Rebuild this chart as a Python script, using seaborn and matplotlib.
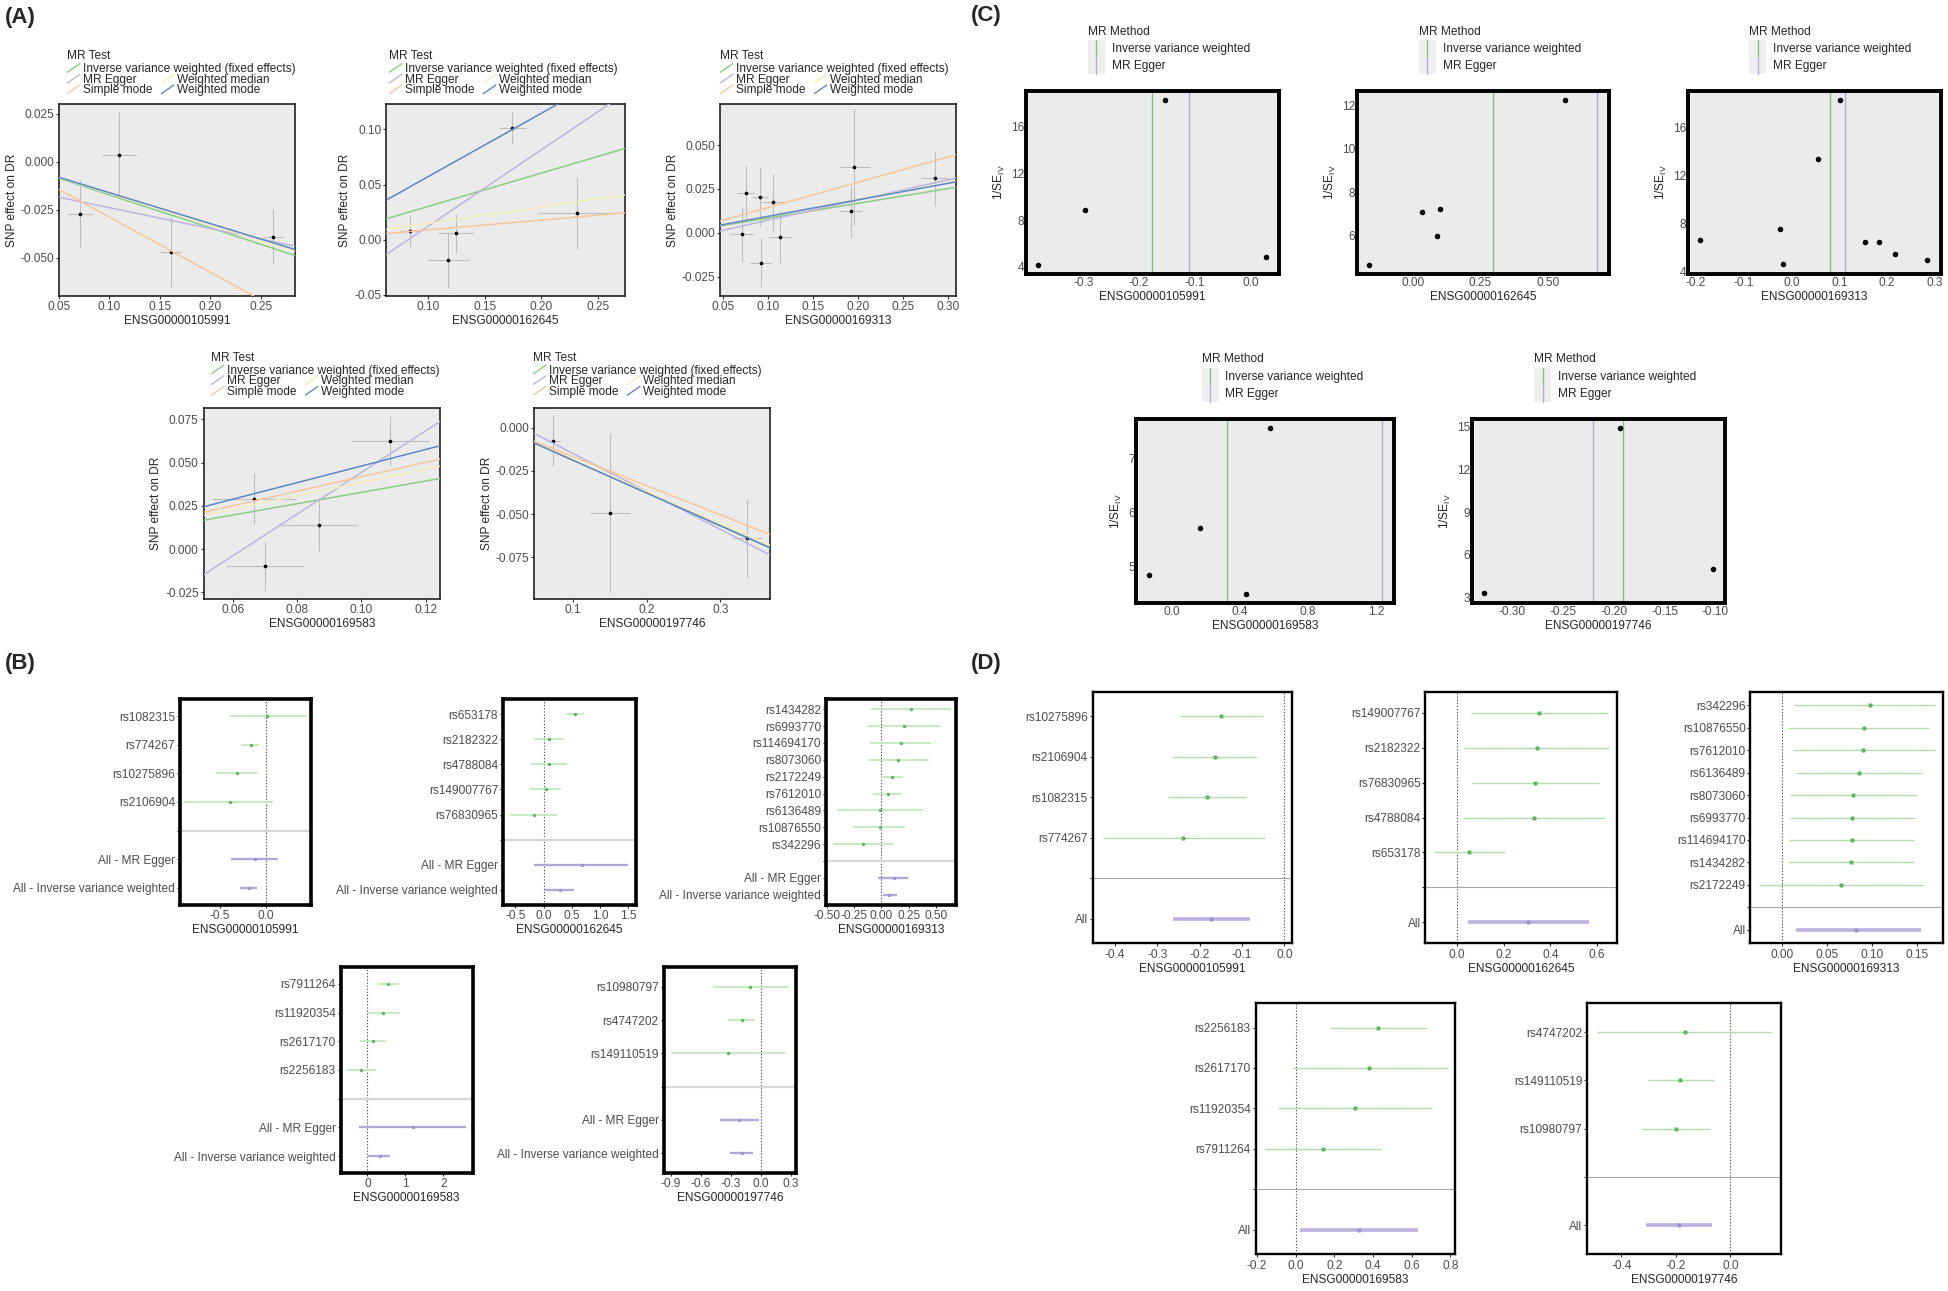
import numpy as np
import pandas as pd
import matplotlib
matplotlib.use("Agg")
import matplotlib.pyplot as plt
import seaborn as sns
from matplotlib.lines import Line2D
from matplotlib.patches import Rectangle
from matplotlib.legend_handler import HandlerBase
from matplotlib.ticker import FixedLocator, FormatStrFormatter

# ----------------------------------------------------------------- DATA
genes = ["ENSG00000105991", "ENSG00000162645", "ENSG00000169313",
         "ENSG00000169583", "ENSG00000197746"]

# (A) scatter plots: SNP effect on exposure (bx) vs SNP effect on DR (by)
A_bx = [[0.0713, 0.1094, 0.1606, 0.2625],
        [0.0835, 0.1176, 0.1243, 0.1744, 0.2312],
        [0.0708, 0.0757, 0.0910, 0.0917, 0.1050, 0.1130, 0.1920, 0.1960, 0.2854],
        [0.0667, 0.0701, 0.0868, 0.1089],
        [0.0727, 0.1500, 0.3360]]
A_by = [[-0.0270, 0.0037, -0.0470, -0.0390],
        [0.0080, -0.0182, 0.0058, 0.1010, 0.0240],
        [-0.0008, 0.0229, 0.0206, -0.0170, 0.0173, -0.0023, 0.0122, 0.0373, 0.0310],
        [0.0292, -0.0096, 0.0142, 0.0627],
        [-0.0075, -0.0492, -0.0640]]
A_sex = [[0.012, 0.017, 0.0106, 0.010],
         [0.008, 0.018, 0.016, 0.012, 0.034],
         [0.013, 0.010, 0.009, 0.012, 0.014, 0.012, 0.012, 0.017, 0.015],
         [0.013, 0.012, 0.0117, 0.012],
         [0.009, 0.027, 0.020]]
A_sey = [[0.0173, 0.0225, 0.0182, 0.0143],
         [0.0140, 0.0255, 0.0176, 0.0143, 0.0320],
         [0.0154, 0.0152, 0.0167, 0.0139, 0.0163, 0.0149, 0.0143, 0.0330, 0.0156],
         [0.0148, 0.0145, 0.0152, 0.0144],
         [0.0145, 0.0455, 0.0226]]
A_methods = ["Inverse variance weighted (fixed effects)", "MR Egger",
             "Weighted median", "Simple mode", "Weighted mode"]
A_slope = [[-0.172, -0.109, -0.165, -0.288, -0.161],
           [0.302, 0.691, 0.148, 0.089, 0.573],
           [0.084, 0.115, 0.095, 0.144, 0.094],
           [0.328, 1.206, 0.385, 0.418, 0.480],
           [-0.189, -0.219, -0.185, -0.168, -0.189]]
A_icept = [[0.0, -0.0130, 0.0, 0.0, 0.0],
           [0.0, -0.0567, 0.0, 0.0, 0.0],
           [0.0, -0.0043, 0.0, 0.0, 0.0],
           [0.0, -0.0763, 0.0, 0.0, 0.0],
           [0.0, 0.0069, 0.0, 0.0, 0.0]]
A_xticks = [[0.05, 0.10, 0.15, 0.20, 0.25], [0.10, 0.15, 0.20, 0.25],
            [0.05, 0.10, 0.15, 0.20, 0.25, 0.30], [0.06, 0.08, 0.10, 0.12],
            [0.1, 0.2, 0.3]]
A_yticks = [[-0.050, -0.025, 0.000, 0.025], [-0.05, 0.00, 0.05, 0.10],
            [-0.025, 0.000, 0.025, 0.050], [-0.025, 0.000, 0.025, 0.050, 0.075],
            [-0.075, -0.050, -0.025, 0.000]]

# (C) funnel plots: Wald ratio vs 1/SE
C_beta = [[-0.382, -0.2967, -0.1544, 0.0278],
          [-0.159, 0.036, 0.091, 0.100, 0.561],
          [-0.191, -0.0245, -0.017, 0.0556, 0.1013, 0.1543, 0.183, 0.216, 0.2845],
          [-0.131, 0.167, 0.436, 0.579],
          [-0.3278, -0.1943, -0.1029]]
C_invse = [[4.11, 8.83, 18.3, 4.86],
           [4.62, 7.06, 5.97, 7.20, 12.23],
           [6.62, 7.56, 4.61, 13.44, 18.3, 6.45, 6.45, 5.45, 4.97],
           [4.85, 5.716, 4.506, 7.568],
           [3.30, 14.9, 5.00]]
C_ivw = [-0.1767, 0.295, 0.0814, 0.3248, -0.191]
C_egger = [-0.110, 0.679, 0.1129, 1.2315, -0.2204]
C_methods = ["Inverse variance weighted", "MR Egger"]
C_xticks = [[-0.3, -0.2, -0.1, 0.0], [0.00, 0.25, 0.50],
            [-0.2, -0.1, 0.0, 0.1, 0.2, 0.3], [0.0, 0.4, 0.8, 1.2],
            [-0.30, -0.25, -0.20, -0.15, -0.10]]
C_yticks = [[4, 8, 12, 16], [6, 8, 10, 12], [4, 8, 12, 16], [5, 6, 7],
            [3, 6, 9, 12, 15]]

# (B) forest plots of single-SNP and overall estimates
B_snps = [["rs1082315", "rs774267", "rs10275896", "rs2106904"],
          ["rs653178", "rs2182322", "rs4788084", "rs149007767", "rs76830965"],
          ["rs1434282", "rs6993770", "rs114694170", "rs8073060", "rs2172249",
           "rs7612010", "rs6136489", "rs10876550", "rs342296"],
          ["rs7911264", "rs11920354", "rs2617170", "rs2256183"],
          ["rs10980797", "rs4747202", "rs149110519"]]
B_b = [[0.021, -0.160, -0.305, -0.390],
       [0.560, 0.100, 0.090, 0.036, -0.165],
       [0.269, 0.206, 0.177, 0.149, 0.097, 0.057, -0.011, -0.017, -0.171],
       [0.541, 0.412, 0.153, -0.165],
       [-0.103, -0.193, -0.327]]
B_lo = [[-0.382, -0.264, -0.542, -0.882],
        [0.389, -0.178, -0.233, -0.244, -0.589],
        [-0.097, -0.126, -0.103, -0.126, 0.000, -0.074, -0.411, -0.257, -0.446],
        [0.306, 0.012, -0.200, -0.529],
        [-0.484, -0.327, -0.900]]
B_hi = [[0.451, -0.069, -0.083, 0.083],
        [0.711, 0.356, 0.411, 0.311, 0.244],
        [0.640, 0.543, 0.457, 0.434, 0.200, 0.189, 0.383, 0.217, 0.103],
        [0.824, 0.859, 0.482, 0.235],
        [0.287, -0.058, 0.255]]
B_all_labels = ["All - MR Egger", "All - Inverse variance weighted"]
B_all_b = [[-0.115, -0.185], [0.675, 0.290], [0.114, 0.069], [1.188, 0.318], [-0.215, -0.193]]
B_all_lo = [[-0.375, -0.278], [-0.178, 0.022], [-0.029, 0.011], [-0.224, 0.012], [-0.407, -0.304]]
B_all_hi = [[0.132, -0.097], [1.500, 0.544], [0.246, 0.143], [2.600, 0.600], [-0.022, -0.076]]
B_xticks = [[-0.5, 0.0], [-0.5, 0.0, 0.5, 1.0, 1.5], [-0.50, -0.25, 0.00, 0.25, 0.50],
            [0, 1, 2], [-0.9, -0.6, -0.3, 0.0, 0.3]]

# (D) leave-one-out plots
D_snps = [["rs10275896", "rs2106904", "rs1082315", "rs774267"],
          ["rs149007767", "rs2182322", "rs76830965", "rs4788084", "rs653178"],
          ["rs342296", "rs10876550", "rs7612010", "rs6136489", "rs8073060",
           "rs6993770", "rs114694170", "rs1434282", "rs2172249"],
          ["rs2256183", "rs2617170", "rs11920354", "rs7911264"],
          ["rs4747202", "rs149110519", "rs10980797"]]
D_b = [[-0.150, -0.164, -0.184, -0.239],
       [0.349, 0.341, 0.336, 0.329, 0.052],
       [0.0983, 0.0908, 0.0902, 0.0861, 0.0794, 0.0780, 0.0774, 0.0767, 0.0660],
       [0.426, 0.381, 0.308, 0.141],
       [-0.167, -0.183, -0.198]]
D_lo = [[-0.247, -0.264, -0.276, -0.429],
        [0.0595, 0.031, 0.065, 0.026, -0.098],
        [0.0138, 0.0067, 0.0121, 0.0155, 0.0087, 0.0087, 0.0074, 0.0074, -0.025],
        [0.176, -0.011, -0.092, -0.156],
        [-0.491, -0.304, -0.324]]
D_hi = [[-0.050, -0.064, -0.090, -0.046],
        [0.647, 0.652, 0.608, 0.634, 0.207],
        [0.170, 0.1635, 0.170, 0.1555, 0.150, 0.148, 0.1467, 0.1467, 0.158],
        [0.679, 0.786, 0.707, 0.439],
        [0.152, -0.061, -0.076]]
D_all_b = [-0.174, 0.303, 0.0828, 0.327, -0.189]
D_all_lo = [-0.264, 0.047, 0.0155, 0.021, -0.309]
D_all_hi = [-0.081, 0.564, 0.1541, 0.632, -0.068]
D_xticks = [[-0.4, -0.3, -0.2, -0.1, 0.0], [0.0, 0.2, 0.4, 0.6],
            [0.00, 0.05, 0.10, 0.15], [-0.2, 0.0, 0.2, 0.4, 0.6, 0.8], [-0.4, -0.2, 0.0]]

# ----------------------------------------------------------------- LAYOUT / STYLE
W, H = 1949, 1291
A_boxes = [(59, 295, 104, 296), (386, 625, 104, 296), (720, 956, 104, 296),
           (203.6, 440, 407.7, 599), (534, 770.5, 407.7, 599)]
C_boxes = [(1026, 1279, 91, 274), (1357, 1609, 91, 274), (1688, 1941, 91, 274),
           (1136.5, 1394, 419, 603), (1472, 1725, 419, 603)]
B_boxes = [(180, 310.6, 699, 905), (503, 635.6, 699, 905), (826, 956, 699, 905),
           (340.7, 472.8, 966.7, 1173.3), (663.5, 796, 966.7, 1173.3)]
D_boxes = [(1092.6, 1292.3, 692, 943), (1425.5, 1617.3, 692, 943), (1750.5, 1943, 692, 943),
           (1255.7, 1455.5, 1003.3, 1254), (1587.3, 1781.3, 1003.3, 1254)]
A_lims = [((0.05, 0.284), (-0.070, 0.0302)), ((0.0625, 0.274), (-0.051, 0.123)),
          ((0.0465, 0.309), (-0.036, 0.0734)), ((0.051, 0.1244), (-0.0288, 0.0817)),
          ((0.0467, 0.368), (-0.099, 0.0115))]
C_lims = [((-0.403, 0.051), (3.37, 19.09)), ((-0.2045, 0.7227), (4.22, 12.66)),
          ((-0.2168, 0.313), (3.8, 19.08)), ((-0.2036, 1.304), (4.333, 7.728)),
          ((-0.3396, -0.0906), (2.625, 15.52))]
B_xlims = [(-0.93, 0.49), (-0.722, 1.633), (-0.51, 0.686), (-0.706, 2.776), (-0.976, 0.354)]
D_xlims = [(-0.453, 0.0186), (-0.1345, 0.686), (-0.035, 0.179), (-0.206, 0.826), (-0.525, 0.187)]
A_xfmt = ["%.2f", "%.2f", "%.2f", "%.2f", "%.1f"]
A_yfmt = ["%.3f", "%.2f", "%.3f", "%.3f", "%.3f"]
C_xfmt = ["%.1f", "%.2f", "%.1f", "%.1f", "%.2f"]
B_xfmt = ["%.1f", "%.1f", "%.2f", "%d", "%.1f"]
D_xfmt = ["%.1f", "%.1f", "%.2f", "%.1f", "%.1f"]
A_leg = [(67, 56.5), (389, 56.5), (720, 56.5), (211, 358), (533, 358)]
C_leg = [(1088, 32.3), (1419, 32.3), (1749.5, 32.3), (1201.6, 360), (1534.4, 360)]

A_colors = ["#8CCB88", "#BDB5DB", "#F3EDBE", "#F6C79B", "#5F86C4"]
C_colors = ["#7FC47C", "#B4AED4"]
PANEL_BG = "#EBEBEB"
TICK_C = "#4D4D4D"
FS = 8.6
LEG_FS = 8.6

sns.set_theme(style="white")
plt.rcParams["font.family"] = ["Liberation Sans", "DejaVu Sans"]
plt.rcParams["axes.unicode_minus"] = False
plt.rcParams["mathtext.default"] = "regular"

fig = plt.figure(figsize=(W / 100, H / 100), dpi=100)
fig.patch.set_facecolor("white")


def add_ax(box):
    x0, x1, y0, y1 = box
    return fig.add_axes([x0 / W, 1 - y1 / H, (x1 - x0) / W, (y1 - y0) / H])


def set_spines(ax, lw, color="black"):
    for s in ax.spines.values():
        s.set_visible(True)
        s.set_linewidth(lw)
        s.set_color(color)


def ticks(ax, xt, xfmt, yt=None, yfmt=None, length=2.5, xpad=1.0, ypad=1.0):
    ax.xaxis.set_major_locator(FixedLocator(xt))
    ax.xaxis.set_major_formatter(FormatStrFormatter(xfmt))
    if yt is not None:
        ax.yaxis.set_major_locator(FixedLocator(yt))
        ax.yaxis.set_major_formatter(FormatStrFormatter(yfmt))
    ax.tick_params(axis="both", which="major", bottom=True, left=True, top=False, right=False,
                   length=length, width=0.8, color="#333333", labelsize=FS,
                   labelcolor=TICK_C, direction="out")
    ax.tick_params(axis="x", pad=xpad)
    ax.tick_params(axis="y", pad=ypad)


class HandlerDiag(HandlerBase):
    def create_artists(self, legend, orig_handle, xdescent, ydescent, width, height, fontsize, trans):
        ln = Line2D([-xdescent, -xdescent + width], [-ydescent, -ydescent + height],
                    color=orig_handle.get_color(), lw=orig_handle.get_linewidth(),
                    solid_capstyle="butt")
        ln.set_transform(trans)
        return [ln]


class HandlerVKey(HandlerBase):
    def create_artists(self, legend, orig_handle, xdescent, ydescent, width, height, fontsize, trans):
        r = Rectangle((-xdescent, -ydescent), width, height, facecolor="#EFEFEF",
                      edgecolor="none", transform=trans)
        xm = -xdescent + width / 2
        ln = Line2D([xm, xm], [-ydescent, -ydescent + height], color=orig_handle.get_color(),
                    lw=orig_handle.get_linewidth())
        ln.set_transform(trans)
        return [r, ln]


# ---------------- (A) scatter plots
for i in range(5):
    ax = add_ax(A_boxes[i])
    ax.set_facecolor(PANEL_BG)
    ax.errorbar(A_bx[i], A_by[i], yerr=A_sey[i], fmt="none", ecolor="#BEBEBE",
                elinewidth=0.8, capsize=0, zorder=2)
    ax.errorbar(A_bx[i], A_by[i], xerr=A_sex[i], fmt="none", ecolor="#BEBEBE",
                elinewidth=0.8, capsize=0, zorder=2)
    sns.scatterplot(x=A_bx[i], y=A_by[i], ax=ax, color="black", s=7, linewidth=0,
                    zorder=3, legend=False)
    for m in range(5):
        ax.axline((0, A_icept[i][m]), slope=A_slope[i][m], color=A_colors[m], lw=1.1, zorder=4)
    ax.set_xlim(*A_lims[i][0])
    ax.set_ylim(*A_lims[i][1])
    ticks(ax, A_xticks[i], A_xfmt[i], A_yticks[i], A_yfmt[i], length=2.5, xpad=1, ypad=1)
    set_spines(ax, 1.2, "#222222")
    ax.set_xlabel(genes[i], fontsize=FS, labelpad=1.5)
    ax.set_ylabel("SNP effect on DR", fontsize=FS, labelpad=2)

    hs = [Line2D([], [], color=A_colors[m], lw=1.0) for m in range(5)]
    lx, ly = A_leg[i]
    leg1 = fig.legend(handles=[hs[0], hs[1], hs[3]],
                      labels=[A_methods[0], A_methods[1], A_methods[3]],
                      title="MR Test", loc="upper left",
                      bbox_to_anchor=(lx / W, 1 - (ly - 6.5) / H),
                      frameon=False, fontsize=LEG_FS, title_fontsize=LEG_FS, alignment="left",
                      handlelength=1.1, handleheight=0.8, handletextpad=0.2, labelspacing=-0.11,
                      borderpad=0, borderaxespad=0, handler_map={Line2D: HandlerDiag()})
    leg1._legend_box.sep = 0.8
    fig.legend(handles=[hs[2], hs[4]], labels=[A_methods[2], A_methods[4]],
               loc="upper left", bbox_to_anchor=((lx + 94) / W, 1 - (ly + 17.3) / H),
               frameon=False, fontsize=LEG_FS, handlelength=1.1, handleheight=0.8,
               handletextpad=0.2, labelspacing=-0.11, borderpad=0, borderaxespad=0,
               handler_map={Line2D: HandlerDiag()})

# ---------------- (C) funnel plots
for i in range(5):
    ax = add_ax(C_boxes[i])
    ax.set_facecolor(PANEL_BG)
    ax.axvline(C_ivw[i], color=C_colors[0], lw=1.0, zorder=2)
    ax.axvline(C_egger[i], color=C_colors[1], lw=1.0, zorder=2)
    sns.scatterplot(x=C_beta[i], y=C_invse[i], ax=ax, color="black", s=16, linewidth=0,
                    zorder=3, legend=False)
    ax.set_xlim(*C_lims[i][0])
    ax.set_ylim(*C_lims[i][1])
    ticks(ax, C_xticks[i], C_xfmt[i], C_yticks[i], "%d", length=0, xpad=2.0, ypad=1.2)
    set_spines(ax, 2.8)
    ax.set_xlabel(genes[i], fontsize=FS, labelpad=1.5)
    ax.set_ylabel(r"$1/SE_{IV}$", fontsize=FS, labelpad=3)
    hs = [Line2D([], [], color=C_colors[k], lw=1.0) for k in range(2)]
    lx, ly = C_leg[i]
    leg = fig.legend(handles=hs, labels=C_methods, title="MR Method", loc="upper left",
                     bbox_to_anchor=(lx / W, 1 - (ly - 6.5) / H), frameon=False,
                     fontsize=LEG_FS, title_fontsize=LEG_FS, alignment="left",
                     handlelength=1.42, handleheight=1.8, handletextpad=0.55,
                     labelspacing=0.0, borderpad=0, borderaxespad=0,
                     handler_map={Line2D: HandlerVKey()})
    leg._legend_box.sep = 1.6


# ---------------- forest helpers
def forest(ax, labels, snp_b, snp_lo, snp_hi, all_b, all_lo, all_hi, snp_lw, snp_line,
           snp_pt, all_lw, all_line, sep_color, sep_lw, pt_size):
    n_snp = len(snp_b)
    n = len(labels)
    pos_snp = np.arange(n_snp)
    pos_all = np.arange(n_snp + 1, n)
    ax.axvline(0, ls=(0, (1.2, 1.6)), color="#555555", lw=0.8, zorder=1)
    ax.axhline(n_snp, color=sep_color, lw=sep_lw, zorder=1)
    ax.hlines(pos_snp, snp_lo, snp_hi, color=snp_line, lw=snp_lw, zorder=2)
    sns.scatterplot(x=snp_b, y=pos_snp, ax=ax, color=snp_pt, s=pt_size, linewidth=0,
                    zorder=3, legend=False)
    ax.hlines(pos_all, all_lo, all_hi, color=all_line, lw=all_lw, zorder=2)
    sns.scatterplot(x=all_b, y=pos_all, ax=ax, color="#9F92CC", s=pt_size, linewidth=0,
                    zorder=3, legend=False)
    ax.set_yticks(np.arange(n))
    ax.set_yticklabels(labels)
    ax.set_ylim(n - 1 + 0.6, -0.6)
    ax.set_facecolor("white")


# ---------------- (B) forest plots
for i in range(5):
    ax = add_ax(B_boxes[i])
    labels = B_snps[i] + [""] + B_all_labels
    forest(ax, labels, B_b[i], B_lo[i], B_hi[i], B_all_b[i], B_all_lo[i], B_all_hi[i],
           snp_lw=1.3, snp_line="#C4E6BE", snp_pt="#5DB75D", all_lw=1.7,
           all_line="#B2A9DA", sep_color="#D6D6D6", sep_lw=1.6, pt_size=6)
    ax.set_xlim(*B_xlims[i])
    ticks(ax, B_xticks[i], B_xfmt[i], length=2.5, xpad=1, ypad=1)
    set_spines(ax, 2.6)
    ax.set_xlabel(genes[i], fontsize=FS, labelpad=1.5)

# ---------------- (D) leave-one-out plots
for i in range(5):
    ax = add_ax(D_boxes[i])
    labels = D_snps[i] + ["", "All"]
    forest(ax, labels, D_b[i], D_lo[i], D_hi[i], [D_all_b[i]], [D_all_lo[i]], [D_all_hi[i]],
           snp_lw=1.0, snp_line="#B3DDAC", snp_pt="#5DB75D", all_lw=2.6,
           all_line="#BDB0E0", sep_color="#A8A8A8", sep_lw=0.8, pt_size=10)
    ax.set_xlim(*D_xlims[i])
    ticks(ax, D_xticks[i], D_xfmt[i], length=2.5, xpad=1.5, ypad=1)
    set_spines(ax, 1.7)
    ax.set_xlabel(genes[i], fontsize=FS, labelpad=2)

# ---------------- panel letters
for lab, (x, y) in zip(["(A)", "(B)", "(C)", "(D)"], [(5, 17), (5, 663), (971, 16), (971, 663)]):
    fig.text(x / W, 1 - y / H, lab, fontsize=16, fontweight="bold", ha="left", va="center")

fig.savefig("out.png", dpi=100, facecolor="white")
